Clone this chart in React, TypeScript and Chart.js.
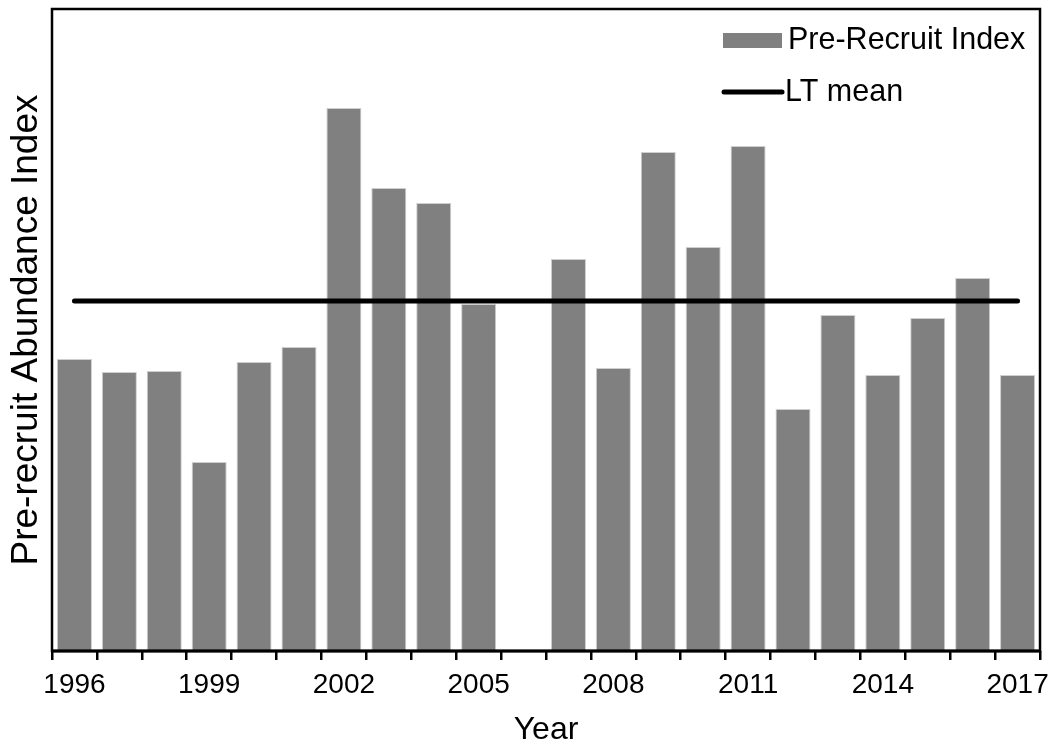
import React, { useEffect, useRef } from "react";
import { Chart, registerables } from "chart.js";

Chart.register(...registerables);

const years = [
  "1996", "1997", "1998", "1999", "2000", "2001", "2002", "2003", "2004", "2005", "2006",
  "2007", "2008", "2009", "2010", "2011", "2012", "2013", "2014", "2015", "2016", "2017",
];

// Pre-recruit abundance index by year (no survey value for 2006)
const preRecruitIndex: (number | null)[] = [
  2.92, 2.79, 2.8, 1.89, 2.89, 3.04, 5.43, 4.63, 4.48, 3.47, null,
  3.92, 2.83, 4.99, 4.04, 5.05, 2.42, 3.36, 2.76, 3.33, 3.73, 2.76,
];

// Long-term mean of the index
const ltMean = 3.5;

// Years that carry a label on the x axis
const labeledYears = ["1996", "1999", "2002", "2005", "2008", "2011", "2014", "2017"];

const FONT = "'Liberation Sans', Arial, sans-serif";
const BAR_COLOR = "#808080";

const framePlugin = {
  id: "frame",
  afterDraw(chart: Chart) {
    const { ctx, chartArea } = chart;
    ctx.save();
    ctx.strokeStyle = "#000";
    ctx.lineWidth = 2.5;
    ctx.strokeRect(chartArea.left, chartArea.top, chartArea.right - chartArea.left, chartArea.bottom - chartArea.top);
    // slightly heavier bottom axis line
    ctx.lineWidth = 3;
    ctx.beginPath();
    ctx.moveTo(chartArea.left, chartArea.bottom);
    ctx.lineTo(chartArea.right, chartArea.bottom);
    ctx.stroke();
    ctx.restore();
  },
};

const insideLegendPlugin = {
  id: "insideLegend",
  afterDraw(chart: Chart) {
    const { ctx } = chart;
    const barSet = chart.data.datasets[1];
    const lineSet = chart.data.datasets[0];
    ctx.save();
    ctx.font = `30.5px ${FONT}`;
    ctx.textBaseline = "middle";
    ctx.textAlign = "left";

    // bar swatch
    ctx.fillStyle = BAR_COLOR;
    ctx.fillRect(723, 33, 59, 15);
    ctx.fillStyle = "#000";
    ctx.fillText(String(barSet.label), 788, 41);

    // line swatch
    ctx.strokeStyle = "#000";
    ctx.lineWidth = 5;
    ctx.lineCap = "round";
    ctx.beginPath();
    ctx.moveTo(724, 92);
    ctx.lineTo(782, 92);
    ctx.stroke();
    ctx.fillText(String(lineSet.label), 785, 93);
    ctx.restore();
  },
};

export default function App() {
  const canvasRef = useRef<HTMLCanvasElement | null>(null);

  useEffect(() => {
    if (!canvasRef.current) return;
    const chart = new Chart(canvasRef.current, {
      type: "bar",
      data: {
        labels: years,
        datasets: [
          {
            type: "line",
            label: "LT mean",
            data: years.map(() => ltMean),
            borderColor: "#000",
            borderWidth: 5,
            borderCapStyle: "round",
            pointRadius: 0,
            fill: false,
            order: 0,
          },
          {
            type: "bar",
            label: "Pre-Recruit Index",
            data: preRecruitIndex,
            backgroundColor: BAR_COLOR,
            borderColor: "#cfcfcf",
            borderWidth: 1,
            categoryPercentage: 1,
            barPercentage: 0.78,
            order: 1,
          },
        ],
      },
      options: {
        responsive: false,
        animation: false,
        layout: { padding: { top: 9, right: 13, left: 0, bottom: 0 } },
        plugins: {
          legend: { display: false },
          tooltip: { enabled: false },
        },
        scales: {
          x: {
            type: "category",
            offset: true,
            afterFit: (scale: any) => {
              scale.height = 98;
            },
            border: { display: false },
            grid: {
              offset: true,
              drawOnChartArea: false,
              drawTicks: true,
              tickLength: 9,
              color: "#000",
              lineWidth: 2.5,
            },
            ticks: {
              autoSkip: false,
              maxRotation: 0,
              minRotation: 0,
              padding: 8,
              color: "#000",
              font: { family: FONT, size: 28 },
              callback: (_v: any, i: number) => (labeledYears.includes(years[i]) ? years[i] : ""),
            },
            title: {
              display: true,
              text: "Year",
              color: "#000",
              font: { family: FONT, size: 32 },
              padding: { top: 0, bottom: 0 },
            },
          },
          y: {
            min: 0,
            max: 6.42,
            afterFit: (scale: any) => {
              scale.width = 52;
            },
            border: { display: false },
            grid: { display: false },
            ticks: { display: false },
            title: {
              display: true,
              text: "Pre-recruit Abundance Index",
              color: "#000",
              font: { family: FONT, size: 37 },
              padding: { top: 5, bottom: 0 },
            },
          },
        },
      },
      plugins: [framePlugin, insideLegendPlugin],
    });
    return () => chart.destroy();
  }, []);

  return (
    <div style={{ position: "fixed", left: 0, top: 0, width: 1057, height: 749, background: "#fff" }}>
      <canvas ref={canvasRef} width={1057} height={749} style={{ display: "block" }} />
    </div>
  );
}
